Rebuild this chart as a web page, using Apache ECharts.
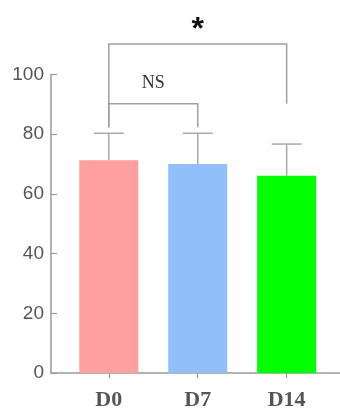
<!DOCTYPE html>
<html>
<head>
<meta charset="utf-8">
<script src="https://cdn.jsdelivr.net/npm/echarts@6/dist/echarts.min.js"></script>
<style>html,body{margin:0;padding:0;background:#fff}#c{width:340px;height:411px}</style>
</head>
<body>
<div id="c"></div>
<script>
// ---- data ----
const categories = ['D0', 'D7', 'D14'];
const means = [71.3, 70.0, 66.1];
const errTops = [80.3, 80.3, 76.7];
const barColors = ['#FF9F9F', '#91BFF9', '#00FF00'];
const yTicks = [0, 20, 40, 60, 80, 100];
// significance brackets (category index from/to, bracket level, leg ends, label)
const bracketLabels = ['*', 'NS'];
const bracketFrom = [0, 0];
const bracketTo = [2, 1];
const bracketLevel = [110.2, 90.2];
const bracketLeftEnd = [82.3, 82.3];
const bracketRightEnd = [90.2, 82.3];
const bracketLabelY = [117, 97];

const xs = categories.map((c, i) => i + 1);
const chart = echarts.init(document.getElementById('c'), null, {renderer: 'canvas'});
const grey = '#999';

const option = {
  animation: false,
  grid: {left: 51, right: 0, top: 74.5, bottom: 36.5, containLabel: false},
  xAxis: {
    type: 'value', min: 0.35, max: 3.6,
    splitLine: {show: false},
    axisLine: {show: true, lineStyle: {color: grey, width: 1.5}},
    axisTick: {show: true, customValues: xs, length: 5, lineStyle: {color: grey, width: 1.2}},
    axisLabel: {
      customValues: xs, margin: 16,
      formatter: v => categories[Math.round(v) - 1] || '',
      fontFamily: 'Liberation Serif', fontWeight: 'bold', fontSize: 22, color: '#555'
    }
  },
  yAxis: {
    type: 'value', min: 0, max: 100, interval: 20,
    splitLine: {show: false},
    axisLine: {show: true, lineStyle: {color: grey, width: 1.5}},
    axisTick: {show: true, inside: true, length: 6, lineStyle: {color: grey, width: 1.2}},
    axisLabel: {
      margin: 7, fontFamily: 'Liberation Sans', fontSize: 19, color: '#555',
      formatter: v => yTicks.includes(v) ? String(v) : ''
    }
  },
  series: [
    {
      type: 'bar', barWidth: 59,
      data: means.map((m, i) => ({value: [xs[i], m], itemStyle: {color: barColors[i]}}))
    },
    {
      type: 'custom', clip: false, z: 3,
      data: means.map((m, i) => [xs[i], m, errTops[i]]),
      renderItem: (params, api) => {
        const x = api.value(0);
        const b = api.coord([x, api.value(1)]);
        const t = api.coord([x, api.value(2)]);
        const hw = 15;
        return {
          type: 'group',
          children: [
            {type: 'line', shape: {x1: b[0], y1: b[1], x2: t[0], y2: t[1]}, style: {stroke: '#a8a8a8', lineWidth: 1.5}},
            {type: 'line', shape: {x1: t[0] - hw, y1: t[1], x2: t[0] + hw, y2: t[1]}, style: {stroke: '#a8a8a8', lineWidth: 1.5}}
          ]
        };
      }
    },
    {
      type: 'custom', clip: false, z: 4,
      data: bracketLabels.map((l, i) => [xs[bracketFrom[i]], xs[bracketTo[i]], bracketLevel[i], bracketLeftEnd[i], bracketRightEnd[i], bracketLabelY[i], i]),
      renderItem: (params, api) => {
        const x1 = api.value(0), x2 = api.value(1), lv = api.value(2);
        const p1 = api.coord([x1, api.value(3)]);
        const p2 = api.coord([x1, lv]);
        const p3 = api.coord([x2, lv]);
        const p4 = api.coord([x2, api.value(4)]);
        const idx = api.value(6);
        const lbl = bracketLabels[idx];
        const lp = api.coord([(x1 + x2) / 2, api.value(5)]);
        const isStar = lbl === '*';
        return {
          type: 'group',
          children: [
            {type: 'polyline', shape: {points: [p1, p2, p3, p4]}, style: {stroke: '#a0a0a0', lineWidth: 1.5, fill: null}},
            {type: 'text', x: lp[0], y: lp[1] + (isStar ? 6 : 0), style: {
              text: lbl, align: 'center', verticalAlign: 'middle',
              fontFamily: isStar ? 'Liberation Sans' : 'Liberation Serif',
              fontWeight: isStar ? 'bold' : 'normal',
              fontSize: isStar ? 32 : 18, fill: isStar ? '#111' : '#333'
            }}
          ]
        };
      }
    }
  ]
};
chart.setOption(option);
</script>
</body>
</html>
